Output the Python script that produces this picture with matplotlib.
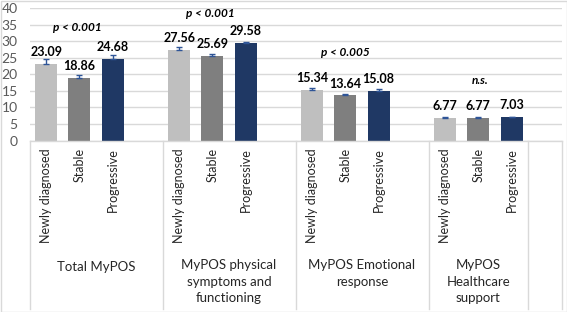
import matplotlib.pyplot as plt
import matplotlib.patches as mpatches
from matplotlib.lines import Line2D

plt.rcParams['font.family'] = ['Lato', 'DejaVu Sans']

groups = ['Total MyPOS', 'MyPOS physical\nsymptoms and\nfunctioning',
          'MyPOS Emotional\nresponse', 'MyPOS\nHealthcare\nsupport']
statuses = ['Newly diagnosed', 'Stable', 'Progressive']
means = [[23.09, 18.86, 24.68],
         [27.56, 25.69, 29.58],
         [15.34, 13.64, 15.08],
         [6.77, 6.77, 7.03]]
errors = [[1.5, 0.9, 1.1],
          [0.9, 0.6, 0.4],
          [0.5, 0.3, 0.4],
          [0.3, 0.2, 0.2]]
pvals = ['p < 0.001', 'p < 0.001', 'p < 0.005', 'n.s.']
colors = ['#BFBFBF', '#7F7F7F', '#1F3864']

# label positions for p-values (slot x, value y)
p_pos = [(1.45, 34.1), (5.45, 38.6), (9.5, 26.8), (13.55, 18.3)]

fig = plt.figure(figsize=(5.67, 3.12), dpi=100)
ax = fig.add_axes([29.5/567, 1-140.5/312, 532/567, 132/312])

for g in range(4):
    for s in range(3):
        x = g*4 + s + 0.5
        ax.bar(x, means[g][s], width=0.66, color=colors[s], zorder=2)
        ax.errorbar(x, means[g][s], yerr=[[0], [errors[g][s]]], color='#2F5597',
                    capsize=2.5, elinewidth=1, capthick=1, zorder=3)
        ax.annotate(f'{means[g][s]:.2f}', (x, means[g][s]), xytext=(0, 8.5),
                    textcoords='offset points', ha='center', va='center',
                    fontsize=9, fontweight='bold', color='black')
        ax.text(x, -0.057, statuses[s], transform=ax.get_xaxis_transform(),
                rotation=90, ha='center', va='top', fontsize=9, color='#262626')
    ax.text(p_pos[g][0], p_pos[g][1], pvals[g], ha='center', va='center',
            fontsize=8.5, fontweight='bold', style='italic')

group_ranges = [(0, 4), (4, 8), (8, 12), (12, 15)]
for (a, b), name in zip(group_ranges, groups):
    if '\n' in name:
        ax.text((a + b)/2, -0.958 + 0.06, name, transform=ax.get_xaxis_transform(),
                ha='center', va='top', fontsize=9.5, color='#262626',
                linespacing=1.45)
    else:
        ax.text((a + b)/2, -0.958, name, transform=ax.get_xaxis_transform(),
                ha='center', va='center', fontsize=9.5, color='#262626')

tr = ax.get_xaxis_transform()
for xs in [0, 4, 8, 12, 15, 16]:
    ax.add_line(Line2D([xs, xs], [0, -1.28], transform=tr, color='#D9D9D9',
                       lw=1, clip_on=False))
ax.add_line(Line2D([0, 16], [0, 0], transform=tr, color='#D9D9D9', lw=1,
                   clip_on=False))

ax.set_xlim(0, 16)
ax.set_ylim(0, 40)
ax.set_yticks(range(0, 41, 5))
ax.set_xticks([])
ax.yaxis.grid(True, color='#D9D9D9', lw=1, zorder=0)
ax.set_axisbelow(True)
for sp in ax.spines.values():
    sp.set_visible(False)
ax.tick_params(axis='y', length=0, labelsize=10, labelcolor='#595959', pad=8.5)

fig.patches.append(mpatches.Rectangle((0.5/567, 0.5/312), 566/567, 311/312,
                                      transform=fig.transFigure, fill=False,
                                      edgecolor='#D9D9D9', lw=1))

fig.savefig('out.png', dpi=100)
